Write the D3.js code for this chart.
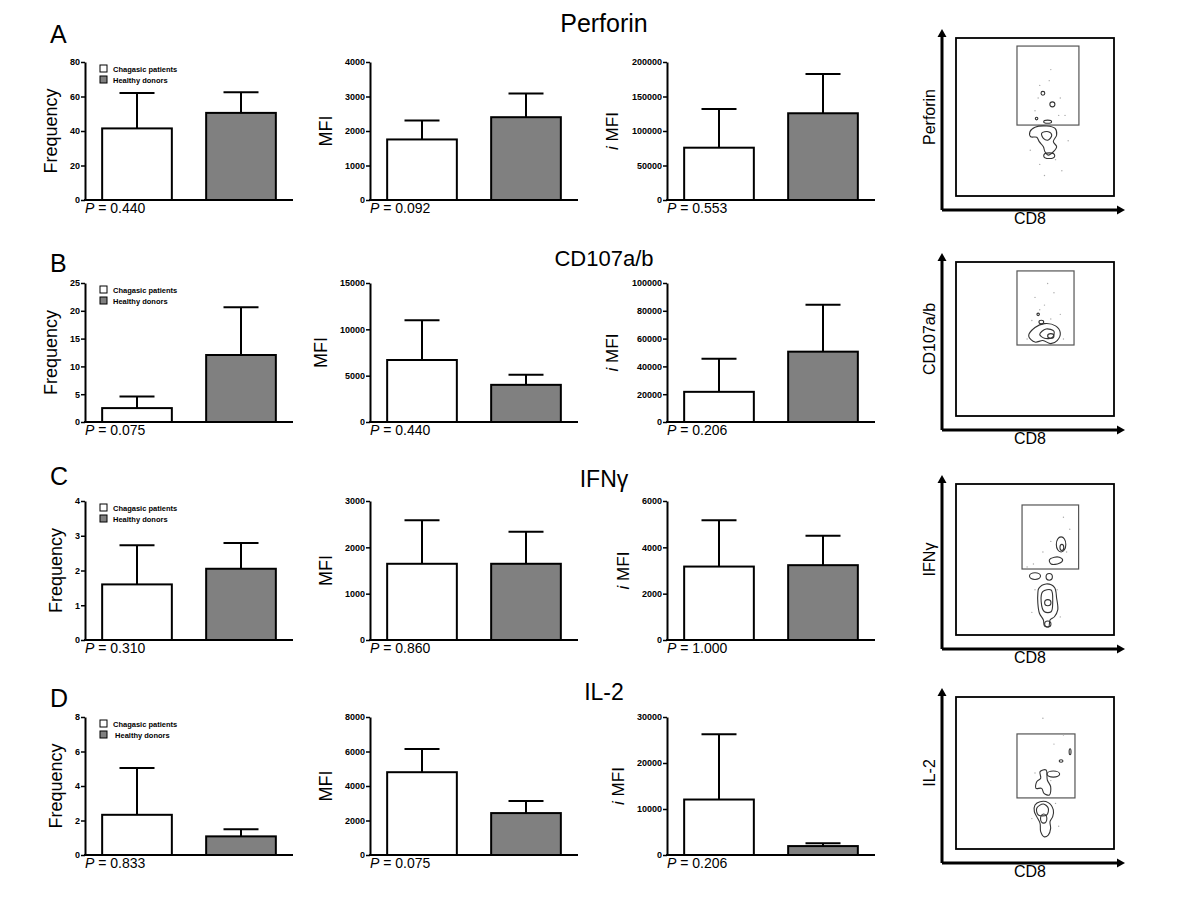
<!DOCTYPE html>
<html>
<head>
<meta charset="utf-8">
<script src="https://cdn.jsdelivr.net/npm/d3@7"></script>
<style>
  body { margin: 0; background: #fff; }
  svg { display: block; font-family: "Liberation Sans", Arial, sans-serif; }
</style>
</head>
<body>
<script>
// groups, rows and measures
const groups = ["Chagasic patients", "Healthy donors"];
const rowLetters = ["A", "B", "C", "D"];
const rowTitles = ["Perforin", "CD107a/b", "IFNγ", "IL-2"];
const measures = ["Frequency", "MFI", "MFI"];

// y domains and tick steps, per row then per measure
const yMax = [[80, 4000, 200000], [25, 15000, 100000], [4, 3000, 6000], [8, 8000, 30000]];
const yStep = [[20, 1000, 50000], [5, 5000, 20000], [1, 1000, 2000], [2, 2000, 10000]];

// bar means [chagasic, healthy] and upper error (SD)
const means = [
  [[41.5, 50.5], [1755, 2400], [75800, 125700]],
  [[2.5, 12.05], [6690, 4010], [21700, 50600]],
  [[1.6, 2.05], [1645, 1645], [3170, 3230]],
  [[2.33, 1.08], [4800, 2430], [12060, 1940]]
];
const errs = [
  [[20.5, 12], [550, 690], [56000, 57000]],
  [[2.1, 8.6], [4300, 1090], [23800, 33700]],
  [[1.13, 0.74], [940, 690], [2000, 1270]],
  [[2.72, 0.42], [1350, 700], [14200, 640]]
];
const pValues = [
  ["0.440", "0.092", "0.553"],
  ["0.075", "0.440", "0.206"],
  ["0.310", "0.860", "1.000"],
  ["0.833", "0.075", "0.206"]
];

// flow plots: gate boxes (fraction of plot, x0,x1,y0,y1 with y up)
const gates = [[0.386, 0.778, 0.449, 0.949], [0.386, 0.747, 0.461, 0.942], [0.418, 0.776, 0.437, 0.861], [0.386, 0.753, 0.336, 0.757]];
// irregular contour outlines, lists of [x, y]
const blobs = [
  [
    [[0.468, 0.407], [0.5, 0.435], [0.574, 0.443], [0.627, 0.428], [0.637, 0.386], [0.616, 0.344], [0.637, 0.312],
     [0.616, 0.28], [0.584, 0.259], [0.563, 0.28], [0.553, 0.312], [0.527, 0.344], [0.511, 0.372], [0.473, 0.375]],
    [[0.542, 0.397], [0.584, 0.407], [0.606, 0.386], [0.584, 0.354], [0.553, 0.365]]
  ],
  [
    [[0.46, 0.52], [0.5, 0.575], [0.56, 0.6], [0.63, 0.585], [0.66, 0.54], [0.64, 0.49], [0.6, 0.47], [0.55, 0.49], [0.5, 0.48]],
    [[0.53, 0.53], [0.57, 0.565], [0.62, 0.55], [0.61, 0.51], [0.56, 0.505]]
  ],
  [
    [[0.524, 0.309], [0.57, 0.338], [0.623, 0.316], [0.637, 0.243], [0.644, 0.166], [0.623, 0.121], [0.595, 0.099],
     [0.587, 0.055], [0.56, 0.06], [0.553, 0.099], [0.528, 0.144], [0.518, 0.21], [0.518, 0.276]],
    [[0.549, 0.287], [0.602, 0.298], [0.612, 0.221], [0.602, 0.154], [0.56, 0.154], [0.539, 0.221]],
    [[0.591, 0.497], [0.623, 0.515], [0.654, 0.515], [0.675, 0.497], [0.654, 0.475], [0.602, 0.47]]
  ],
  [
    [[0.5, 0.289], [0.532, 0.311], [0.584, 0.305], [0.616, 0.257], [0.612, 0.213], [0.595, 0.18], [0.599, 0.136],
     [0.584, 0.092], [0.557, 0.081], [0.536, 0.114], [0.532, 0.169], [0.511, 0.213], [0.496, 0.246]],
    [[0.511, 0.268], [0.553, 0.296], [0.584, 0.268], [0.574, 0.224], [0.521, 0.224]],
    [[0.532, 0.509], [0.57, 0.52], [0.578, 0.454], [0.599, 0.41], [0.591, 0.355], [0.557, 0.366], [0.542, 0.399],
     [0.506, 0.399], [0.511, 0.443], [0.536, 0.465]]
  ]
];
// small contour loops [cx, cy, rx, ry]
const loops = [
  [[0.59, 0.255, 0.035, 0.018], [0.55, 0.65, 0.012, 0.012], [0.61, 0.58, 0.016, 0.016], [0.58, 0.47, 0.025, 0.01], [0.51, 0.49, 0.008, 0.008]],
  [[0.6, 0.52, 0.02, 0.015], [0.54, 0.61, 0.015, 0.012], [0.52, 0.66, 0.008, 0.008]],
  [[0.581, 0.214, 0.02, 0.02], [0.581, 0.073, 0.02, 0.02], [0.5, 0.39, 0.035, 0.022], [0.59, 0.385, 0.02, 0.022],
   [0.665, 0.6, 0.03, 0.05], [0.67, 0.58, 0.012, 0.02]],
  [[0.616, 0.493, 0.04, 0.02], [0.665, 0.579, 0.012, 0.008], [0.722, 0.64, 0.006, 0.02], [0.555, 0.2, 0.02, 0.03]]
];
// scattered events [x, y]
const events = [
  [[0.53, 0.7], [0.59, 0.73], [0.66, 0.62], [0.5, 0.54], [0.69, 0.51], [0.63, 0.23], [0.67, 0.16], [0.53, 0.2],
   [0.56, 0.13], [0.47, 0.29], [0.71, 0.35], [0.65, 0.51], [0.6, 0.8], [0.52, 0.62]],
  [[0.5, 0.77], [0.53, 0.69], [0.56, 0.72], [0.62, 0.8], [0.48, 0.62], [0.66, 0.66], [0.6, 0.63], [0.45, 0.5],
   [0.68, 0.5], [0.58, 0.86]],
  [[0.68, 0.78], [0.72, 0.7], [0.6, 0.62], [0.55, 0.55], [0.49, 0.47], [0.45, 0.45], [0.7, 0.55], [0.64, 0.3],
   [0.48, 0.15], [0.66, 0.12], [0.5, 0.3]],
  [[0.55, 0.86], [0.62, 0.69], [0.6, 0.45], [0.5, 0.5], [0.68, 0.75], [0.63, 0.3], [0.48, 0.2], [0.65, 0.15]]
];

// layout
const W = 1200, H = 921;
const rowTop = [62, 283, 501, 717], rowBottom = [200, 422, 640, 855];
const colX = [85, 370, 667], plotW = 208;
const letterY = [43, 272, 485, 707], titleY = [32, 266, 487, 700];
const titleSize = [25, 22, 23, 23];
const flowTop = [38, 262, 484, 697], flowBottom = [196, 416, 635, 849];
const flowLeft = 956, flowRight = 1114, arrowX = 942;

const svg = d3.select("body").append("svg")
    .attr("width", W)
    .attr("height", H);

const fill = d3.scaleOrdinal(groups, ["#ffffff", "#808080"]);
const blobLine = d3.line().curve(d3.curveCatmullRomClosed.alpha(0.5));

rowLetters.forEach((letter, r) => {
  svg.append("text")
      .attr("x", 50).attr("y", letterY[r])
      .attr("font-size", 25)
      .text(letter);

  svg.append("text")
      .attr("x", 604).attr("y", titleY[r])
      .attr("text-anchor", "middle")
      .attr("font-size", titleSize[r])
      .text(rowTitles[r]);

  measures.forEach((m, c) => {
    const x0 = colX[c];
    const x = d3.scaleBand(groups, [x0, x0 + plotW]).paddingInner(0.33).paddingOuter(0.165);
    const y = d3.scaleLinear([0, yMax[r][c]], [rowBottom[r], rowTop[r]]);
    const g = svg.append("g");

    // bars
    g.selectAll("rect")
      .data(groups)
      .join("rect")
        .attr("x", d => x(d))
        .attr("y", (d, i) => y(means[r][c][i]))
        .attr("width", x.bandwidth())
        .attr("height", (d, i) => y(0) - y(means[r][c][i]))
        .attr("fill", d => fill(d))
        .attr("stroke", "#000")
        .attr("stroke-width", 2);

    // error bars (upper only)
    const eb = g.selectAll("g.err")
      .data(groups)
      .join("g")
        .attr("class", "err")
        .attr("stroke", "#000")
        .attr("stroke-width", 2);
    eb.append("line")
        .attr("x1", d => x(d) + x.bandwidth() / 2)
        .attr("x2", d => x(d) + x.bandwidth() / 2)
        .attr("y1", (d, i) => y(means[r][c][i]))
        .attr("y2", (d, i) => y(means[r][c][i] + errs[r][c][i]));
    eb.append("line")
        .attr("x1", d => x(d) + x.bandwidth() / 2 - 17.5)
        .attr("x2", d => x(d) + x.bandwidth() / 2 + 17.5)
        .attr("y1", (d, i) => y(means[r][c][i] + errs[r][c][i]))
        .attr("y2", (d, i) => y(means[r][c][i] + errs[r][c][i]));

    // y axis
    const ticks = d3.range(0, yMax[r][c] + yStep[r][c] / 2, yStep[r][c]);
    const ax = g.append("g")
        .attr("transform", `translate(${x0},0)`)
        .call(d3.axisLeft(y)
          .tickValues(ticks)
          .tickFormat(d3.format("d"))
          .tickSize(4)
          .tickSizeOuter(0));
    ax.select(".domain").attr("stroke-width", 2);
    ax.selectAll(".tick line").attr("stroke-width", 1.5);
    ax.selectAll(".tick text")
        .attr("font-size", 9)
        .attr("font-weight", "bold")
        .attr("font-family", "Liberation Sans, Arial, sans-serif")
        .attr("x", -5);

    // x baseline
    g.append("line")
        .attr("x1", x0 - 1).attr("x2", x0 + plotW)
        .attr("y1", y(0)).attr("y2", y(0))
        .attr("stroke", "#000")
        .attr("stroke-width", 2);

    // y label, placed just clear of the widest tick label
    const digits = String(yMax[r][c]).length;
    const lab = g.append("text")
        .attr("transform", `translate(${x0 - 18 - digits * 5.1},${(rowTop[r] + rowBottom[r]) / 2}) rotate(-90)`)
        .attr("text-anchor", "middle")
        .attr("font-size", c === 2 ? 17 : 18);
    if (c === 2) lab.append("tspan").attr("font-style", "italic").text("i ");
    lab.append("tspan").text(m);

    // P value
    const p = g.append("text")
        .attr("x", x0).attr("y", rowBottom[r] + 13)
        .attr("font-size", 14);
    p.append("tspan").attr("font-style", "italic").text("P");
    p.append("tspan").text(" = " + pValues[r][c]);

    // legend in frequency panels
    if (c === 0) {
      const lg = g.selectAll("g.leg")
        .data(groups)
        .join("g")
          .attr("class", "leg")
          .attr("transform", (d, i) => `translate(${x0 + 15},${rowTop[r] + 3 + i * 11})`);
      lg.append("rect")
          .attr("width", 7).attr("height", 7)
          .attr("fill", d => fill(d))
          .attr("stroke", "#000")
          .attr("stroke-width", 1);
      lg.append("text")
          .attr("x", 13).attr("y", 6.5)
          .attr("font-size", 7.5)
          .attr("font-weight", "bold")
          .text((d, i) => (r === 3 && i === 1 ? "\u00a0" : "") + d);
    }
  });

  // flow cytometry plot
  const fx = d3.scaleLinear([0, 1], [flowLeft, flowRight]);
  const fy = d3.scaleLinear([0, 1], [flowBottom[r], flowTop[r]]);
  const f = svg.append("g");
  const axisY = flowBottom[r] + 14;

  f.append("rect")
      .attr("x", fx(0)).attr("y", fy(1))
      .attr("width", fx(1) - fx(0)).attr("height", fy(0) - fy(1))
      .attr("fill", "none").attr("stroke", "#000").attr("stroke-width", 1.8);

  const [gx0, gx1, gy0, gy1] = gates[r];
  f.append("rect")
      .attr("x", fx(gx0)).attr("y", fy(gy1))
      .attr("width", fx(gx1) - fx(gx0)).attr("height", fy(gy0) - fy(gy1))
      .attr("fill", "none").attr("stroke", "#555").attr("stroke-width", 1.2);

  f.selectAll("path.blob")
    .data(blobs[r])
    .join("path")
      .attr("class", "blob")
      .attr("d", pts => blobLine(pts.map(d => [fx(d[0]), fy(d[1])])))
      .attr("fill", "none")
      .attr("stroke", "#333")
      .attr("stroke-width", 1.1);

  f.selectAll("ellipse")
    .data(loops[r])
    .join("ellipse")
      .attr("cx", d => fx(d[0]))
      .attr("cy", d => fy(d[1]))
      .attr("rx", d => fx(d[2]) - fx(0))
      .attr("ry", d => fy(0) - fy(d[3]))
      .attr("fill", "none")
      .attr("stroke", "#333")
      .attr("stroke-width", 1.1);

  f.selectAll("circle")
    .data(events[r])
    .join("circle")
      .attr("cx", d => fx(d[0]))
      .attr("cy", d => fy(d[1]))
      .attr("r", 0.7)
      .attr("fill", "#aaa");

  // arrows
  f.append("path")
      .attr("d", `M${arrowX},${axisY}V${flowTop[r] - 2}M${arrowX},${axisY}H${flowRight + 4}`)
      .attr("fill", "none").attr("stroke", "#000").attr("stroke-width", 3);
  f.append("path")
      .attr("d", `M${arrowX - 4.5},${flowTop[r] - 1}L${arrowX},${flowTop[r] - 9}L${arrowX + 4.5},${flowTop[r] - 1}Z`)
      .attr("fill", "#000");
  f.append("path")
      .attr("d", `M${flowRight + 3},${axisY - 4.5}L${flowRight + 11},${axisY}L${flowRight + 3},${axisY + 4.5}Z`)
      .attr("fill", "#000");

  f.append("text")
      .attr("x", 1030).attr("y", axisY + 14)
      .attr("text-anchor", "middle")
      .attr("font-size", 16)
      .text("CD8");
  f.append("text")
      .attr("transform", `translate(${arrowX - 7},${(flowTop[r] + flowBottom[r]) / 2}) rotate(-90)`)
      .attr("text-anchor", "middle")
      .attr("font-size", 16)
      .text(rowTitles[r]);
});
</script>
</body>
</html>
